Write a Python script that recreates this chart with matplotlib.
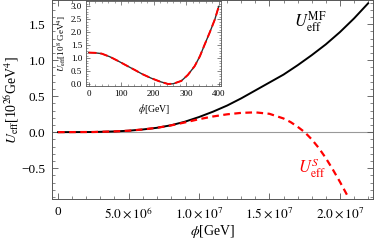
import numpy as np
import matplotlib
matplotlib.use('Agg')
import matplotlib.pyplot as plt
from matplotlib.ticker import MultipleLocator, FixedLocator

plt.rcParams['font.family'] = ['Liberation Serif', 'DejaVu Serif']
plt.rcParams['mathtext.fontset'] = 'stix'

# main plot: phi in GeV, U in 10^26 GeV^4
phi_mf = [0, 2.5e6, 4e6, 5e6, 6e6, 7e6, 8e6, 9e6, 1.0e7, 1.1e7, 1.2e7, 1.3e7, 1.4e7,
          1.5e7, 1.6e7, 1.7e7, 1.8e7, 1.9e7, 2.0e7, 2.1e7, 2.2e7]
u_mf = [0, 0.002, 0.01, 0.02, 0.037, 0.06, 0.095, 0.145, 0.21, 0.285, 0.37, 0.47, 0.58,
        0.69, 0.80, 0.93, 1.07, 1.22, 1.39, 1.58, 1.79]

phi_s = [0, 2.5e6, 4e6, 5e6, 6e6, 7e6, 8e6, 9e6, 1.0e7, 1.1e7, 1.2e7, 1.3e7, 1.4e7,
         1.5e7, 1.6e7, 1.65e7, 1.7e7, 1.75e7, 1.8e7, 1.85e7, 1.9e7, 1.95e7, 2.0e7, 2.05e7]
u_s = [0, 0.002, 0.01, 0.02, 0.037, 0.06, 0.093, 0.135, 0.18, 0.218, 0.248, 0.268, 0.275,
       0.255, 0.19, 0.14, 0.075, 0.0, -0.10, -0.22, -0.36, -0.52, -0.69, -0.87]

# inset: phi in GeV, U in 10^8 GeV^4
phi_in = [0, 20, 40, 65, 90, 115, 142, 165, 193, 220, 244, 260, 285, 305, 326, 342,
          357, 373, 388, 400]
u_in = [1.22, 1.21, 1.18, 1.06, 0.90, 0.73, 0.55, 0.39, 0.23, 0.10, 0.01, 0.02, 0.13,
        0.36, 0.70, 1.08, 1.54, 2.02, 2.50, 3.0]

grey = '#555555'

fig = plt.figure(figsize=(3.74, 2.41), dpi=100)
ax = fig.add_axes([0.139, 0.174, 0.858, 0.824])

ax.axhline(0, color='#999999', lw=0.8, zorder=1)
ax.plot(phi_mf, u_mf, color='black', lw=1.4, zorder=3)
ax.plot(phi_s, u_s, color='red', lw=1.6, ls=(0, (3, 2)), zorder=4)

ax.set_xlim(-4.3e5, 2.234e7)
ax.set_ylim(-0.93, 1.83)
ax.xaxis.set_major_locator(FixedLocator([0, 5e6, 1e7, 1.5e7, 2e7]))
ax.set_xticklabels(['0', r'$5.0\times10^{6}$', r'$1.0\times10^{7}$',
                    r'$1.5\times10^{7}$', r'$2.0\times10^{7}$'])
ax.xaxis.set_minor_locator(MultipleLocator(1e6))
ax.yaxis.set_major_locator(FixedLocator([-0.5, 0.0, 0.5, 1.0, 1.5]))
ax.set_yticklabels(['\u22120.5', '0.0', '0.5', '1.0', '1.5'])
ax.yaxis.set_minor_locator(MultipleLocator(0.1))
ax.tick_params(which='both', direction='in', top=True, right=True, color=grey,
               labelsize=9.5, pad=5)
ax.tick_params(which='major', length=4, width=0.6)
ax.tick_params(which='minor', length=2, width=0.5)
for s in ax.spines.values():
    s.set_color(grey)
    s.set_linewidth(0.7)

ax.set_xlabel(r'$\phi$[GeV]', fontsize=10, labelpad=1)
ax.set_ylabel(r'$U_{\rm eff}$[10$^{26}$GeV$^{4}$]', fontsize=10, labelpad=0)

ax.text(1.787e7, 1.53, r'$U_{\rm eff}^{\rm MF}$', fontsize=12, color='black',
        ha='center', va='center')
ax.text(1.80e7, -0.5, r'$U_{\rm eff}^{S}$', fontsize=12, color='red',
        ha='center', va='center')

# inset
ins = fig.add_axes([0.231, 0.645, 0.360, 0.350])
ins.plot(phi_in, u_in, color='#333333', lw=1.0, zorder=3)
ins.plot(phi_in, u_in, color='red', lw=1.4, ls=(0, (4, 2)), zorder=4)
ins.set_xlim(-7, 407)
ins.set_ylim(-0.05, 3.2)
ins.xaxis.set_major_locator(FixedLocator([0, 100, 200, 300, 400]))
ins.xaxis.set_minor_locator(MultipleLocator(20))
ins.yaxis.set_major_locator(MultipleLocator(0.5))
ins.yaxis.set_minor_locator(MultipleLocator(0.1))
ins.yaxis.set_major_formatter(plt.FormatStrFormatter('%.1f'))
ins.tick_params(which='both', direction='in', top=True, right=True, color=grey,
                labelsize=6.5, pad=3)
ins.tick_params(which='major', length=3, width=0.5)
ins.tick_params(which='minor', length=1.5, width=0.4)
for s in ins.spines.values():
    s.set_color(grey)
    s.set_linewidth(0.6)
ins.set_xlabel(r'$\phi$[GeV]', fontsize=7, labelpad=3)
ins.set_ylabel(r'$U_{\rm eff}$[10$^{8}$ GeV$^{4}$]', fontsize=6.5, labelpad=2)

fig.savefig('out.png', dpi=100)
